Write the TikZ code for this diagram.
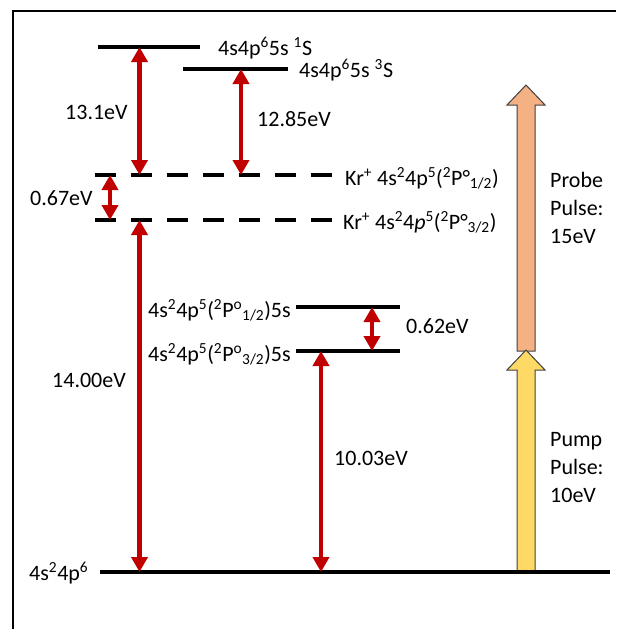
\documentclass[tikz,border=0pt]{standalone}
\usepackage{fontspec}
\setmainfont{Carlito}
\usetikzlibrary{arrows.meta}
\definecolor{arrowred}{HTML}{C00000}
\definecolor{probeorange}{HTML}{F4B183}
\definecolor{pumpyellow}{HTML}{FFD966}
\definecolor{pulseedge}{HTML}{404040}
\tikzstyle{level}=[line width=4.8pt]
\tikzstyle{ionlevel}=[line width=4.8pt, dash pattern=on 21pt off 15pt]
\tikzstyle{gap}=[arrowred, line width=4.5pt, {Triangle[width=16pt,length=15pt]}-{Triangle[width=16pt,length=15pt]}]
\tikzstyle{lbl}=[anchor=base west, inner sep=0pt]
\tikzstyle{pulse}=[draw=pulseedge, line width=1pt]

\begin{document}
\begin{tikzpicture}[x=1pt, y=-1pt, font=\fontsize{22}{28}\selectfont]
        \useasboundingbox (0,0) rectangle (616,629);
        \draw[line width=2.8pt] (13,629) -- (13,11) -- (616,11);
        \coordinate (S1) at (98,47);
        \coordinate (S3) at (183,69);
        \coordinate (ion12) at (95,175);
        \coordinate (ion32) at (95,220);
        \coordinate (ex12) at (296,307);
        \coordinate (ex32) at (296,351);
        \coordinate (gnd) at (100,572);
        \coordinate (colA) at (139.5,0);
        \coordinate (colB) at (241,0);
        \coordinate (colC) at (110,0);
        \coordinate (colD) at (372,0);
        \coordinate (colE) at (321,0);
        \draw[pulse, fill=probeorange] (517,351) -- (517,105) -- (507,105) -- (526,85) -- (545,105) -- (535,105) -- (535,351) -- cycle;
        \draw[pulse, fill=pumpyellow] (517,572) -- (517,370) -- (507,370) -- (526,350) -- (545,370) -- (535,370) -- (535,572) -- cycle;
        \draw[level] (S1) -- ++(102,0);
        \draw[level] (S3) -- ++(105,0);
        \draw[ionlevel] (ion12) -- ++(237,0);
        \draw[ionlevel] (ion32) -- ++(237,0);
        \draw[level] (ex12) -- ++(104,0);
        \draw[level] (ex32) -- ++(104,0);
        \draw[level] (gnd) -- ++(510,0);
        \draw[gap] (colA |- S1) -- (colA |- ion12);
        \draw[gap] (colB |- S3) -- (colB |- ion12);
        \draw[gap] (colC |- ion12) -- (colC |- ion32);
        \draw[gap] (colA |- ion32) -- (colA |- gnd);
        \draw[gap] (colD |- ex12) -- (colD |- ex32);
        \draw[gap] (colE |- ex32) -- (colE |- gnd);
        \node[lbl] (S1lbl) at (218,55) {4s4p\textsuperscript{6}5s \textsuperscript{1}S};
        \node[lbl] (S3lbl) at (299,77) {4s4p\textsuperscript{6}5s \textsuperscript{3}S};
        \node[lbl] (ion12lbl) at (345,185) {Kr\textsuperscript{+} 4s\textsuperscript{2}4p\textsuperscript{5}(\textsuperscript{2}P°\textsubscript{1/2})};
        \node[lbl] (ion32lbl) at (343,229) {Kr\textsuperscript{+} 4s\textsuperscript{2}4\textit{p}\textsuperscript{5}(\textsuperscript{2}P°\textsubscript{3/2})};
        \node[lbl] (ex12lbl) at (148,317) {4s\textsuperscript{2}4p\textsuperscript{5}(\textsuperscript{2}P\textsuperscript{o}\textsubscript{1/2})5s};
        \node[lbl] (ex32lbl) at (148,361) {4s\textsuperscript{2}4p\textsuperscript{5}(\textsuperscript{2}P\textsuperscript{o}\textsubscript{3/2})5s};
        \node[lbl] (gndlbl) at (29,580) {4s\textsuperscript{2}4p\textsuperscript{6}};
        \node[lbl] (eA) at (65,119) {13.1eV};
        \node[lbl] (eB) at (257,126) {12.85eV};
        \node[lbl] (eC) at (30,205) {0.67eV};
        \node[lbl] (eD) at (52,387) {14.00eV};
        \node[lbl] (eE) at (406,333) {0.62eV};
        \node[lbl] (eF) at (334,465) {10.03eV};
        \node[anchor=north west, inner sep=0pt, align=left] (probelbl) at (550,172) {Probe\\Pulse:\\15eV};
        \node[anchor=north west, inner sep=0pt, align=left] (pumplbl) at (550,432) {Pump\\Pulse:\\10eV};
\end{tikzpicture}
\end{document}
